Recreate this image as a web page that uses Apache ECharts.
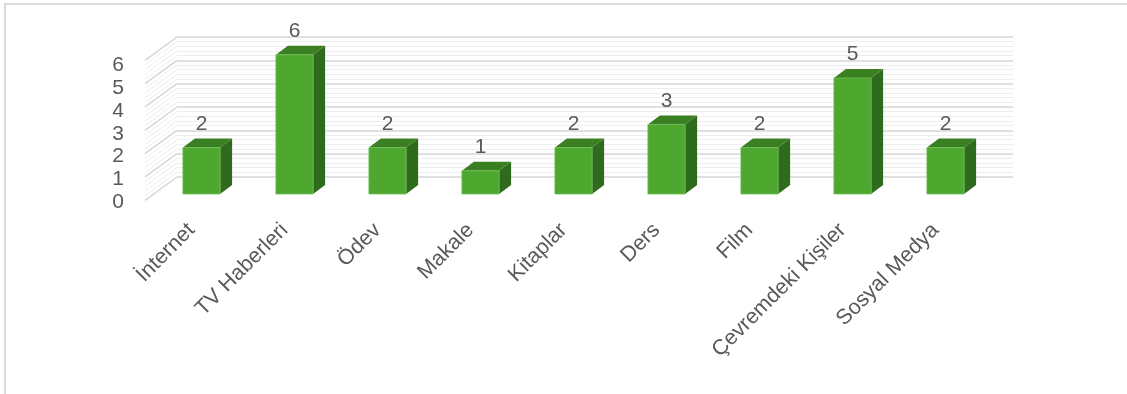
<!DOCTYPE html>
<html>
<head>
<meta charset="utf-8">
<script src="https://cdn.jsdelivr.net/npm/echarts@6/dist/echarts.min.js"></script>
<style>
  html, body { margin: 0; padding: 0; background: #fff; }
  #chart { width: 1127px; height: 394px; position: absolute; left: 0; top: 0; }
  #frame { position: absolute; left: 4px; top: 3px; right: 0; bottom: 0;
           border-top: 2px solid #dadada; border-left: 2px solid #dadada; pointer-events: none; }
</style>
</head>
<body>
<div id="chart"></div>
<div id="frame"></div>
<script>
// kategoriler ve değerler
const categories = ['İnternet', 'TV Haberleri', 'Ödev', 'Makale', 'Kitaplar', 'Ders', 'Film', 'Çevremdeki Kişiler', 'Sosyal Medya'];
const values = [2, 6, 2, 1, 2, 3, 2, 5, 2];
const yTicks = [0, 1, 2, 3, 4, 5, 6];

const FONT = 'Liberation Sans';
const TEXT = '#595959';
// 3B görünüm için derinlik kaydırmaları
const WALL_DX = 32, WALL_DY = 23.3;
const BAR_DX = 12, BAR_DY = 9;

const myChart = echarts.init(document.getElementById('chart'));

const option = {
  animation: false,
  grid: [
    // arka duvar
    { left: 177, right: 114, top: 37, height: 140, outerBoundsMode: 'none' },
    // ön düzlem (y etiketleri)
    { left: 145, width: 32, top: 65.5, height: 136.8, outerBoundsMode: 'none' },
    // sütunlar
    { left: 155, width: 837, top: 54.8, height: 139.2, outerBoundsMode: 'none' }
  ],
  xAxis: [
    { gridIndex: 0, type: 'value', min: 0, max: 1, show: false },
    { gridIndex: 1, type: 'value', min: 0, max: 1, show: false },
    {
      gridIndex: 2, type: 'category', data: categories,
      axisLine: { show: false }, axisTick: { show: false },
      axisLabel: { rotate: 45, margin: 23, interval: 0, padding: [0, 14, 0, 0],
                   color: TEXT, fontSize: 21.5, fontFamily: FONT }
    }
  ],
  yAxis: [
    {
      gridIndex: 0, type: 'value', min: 0, max: 6, interval: 1,
      axisLabel: { show: false }, axisLine: { show: false }, axisTick: { show: false },
      splitLine: { lineStyle: { color: '#d6d6d6', width: 1.5 } },
      minorTick: { show: false, splitNumber: 5 },
      minorSplitLine: { show: true, lineStyle: { color: '#eeeeee', width: 1 } }
    },
    {
      gridIndex: 1, type: 'value', min: 0, max: 6, interval: 1,
      axisLine: { show: false }, axisTick: { show: false }, splitLine: { show: false },
      axisLabel: { margin: 21, color: TEXT, fontSize: 21, fontFamily: FONT }
    },
    { gridIndex: 2, type: 'value', min: 0, max: 6, show: false }
  ],
  series: [
    {
      // yan duvar çizgileri
      type: 'custom',
      xAxisIndex: 0, yAxisIndex: 0,
      data: yTicks,
      silent: true,
      renderItem: function (params, api) {
        const v = api.value(0);
        const children = [];
        const steps = v < yTicks[yTicks.length - 1] ? 5 : 1;
        for (let k = 0; k < steps; k++) {
          const back = api.coord([0, v + k / 5]);
          children.push({
            type: 'line',
            shape: { x1: back[0] - WALL_DX, y1: back[1] + WALL_DY, x2: back[0], y2: back[1] },
            style: { stroke: k === 0 ? '#d6d6d6' : '#ececec', lineWidth: k === 0 ? 1.5 : 1 }
          });
        }
        return { type: 'group', children: children };
      }
    },
    {
      type: 'custom',
      xAxisIndex: 2, yAxisIndex: 2,
      data: values.map((v, i) => [i, v]),
      renderItem: function (params, api) {
        const i = api.value(0);
        const top = api.coord([i, api.value(1)]);
        const base = api.coord([i, 0]);
        const w = api.size([1, 0])[0] * 0.4;
        const x0 = top[0] - w / 2, x1 = top[0] + w / 2;
        const yt = top[1], yb = base[1];
        return {
          type: 'group',
          children: [
            {
              type: 'polygon',
              shape: { points: [[x1, yt], [x1 + BAR_DX, yt - BAR_DY], [x1 + BAR_DX, yb - BAR_DY], [x1, yb]] },
              style: { fill: '#2f6b1c' }
            },
            {
              type: 'polygon',
              shape: { points: [[x0, yt], [x0 + BAR_DX, yt - BAR_DY], [x1 + BAR_DX, yt - BAR_DY], [x1, yt]] },
              style: { fill: '#3b7f23' }
            },
            {
              type: 'rect',
              shape: { x: x0, y: yt, width: w, height: yb - yt },
              style: { fill: '#4ea72e', stroke: '#72c05c', lineWidth: 0.8 }
            },
            {
              type: 'text',
              style: {
                x: top[0], y: yt - BAR_DY - 4, text: String(api.value(1)),
                align: 'center', verticalAlign: 'bottom',
                fill: TEXT, fontSize: 21, fontFamily: FONT
              }
            }
          ]
        };
      }
    }
  ]
};

myChart.setOption(option);
</script>
</body>
</html>
